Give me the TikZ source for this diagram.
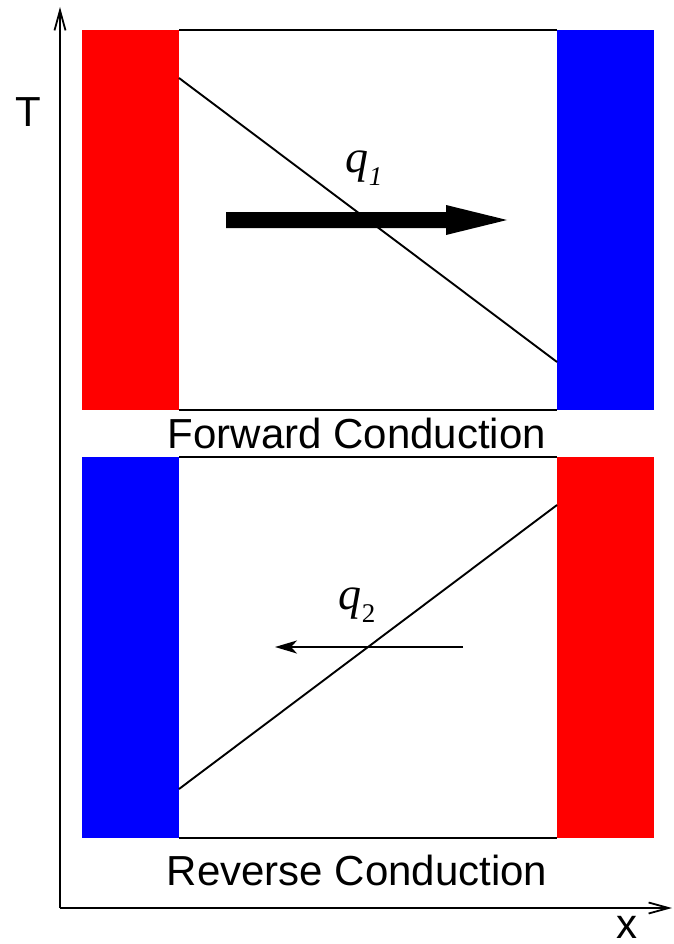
\documentclass[tikz,border=0pt]{standalone}
\usepackage{fontspec}
\setmainfont{Liberation Sans}
\newfontfamily\qfont{Liberation Serif}
\usetikzlibrary{arrows.meta}
\definecolor{hotred}{RGB}{255,0,0}
\definecolor{coldblue}{RGB}{0,0,255}
\tikzset{
  thinline/.style={line width=1.9pt, black},
  axisline/.style={line width=2pt, black, -{Straight Barb[length=20pt,width=11pt,line width=1.8pt]}},
  lbl/.style={font=\fontsize{42}{42}\selectfont, inner sep=0pt},
  qlbl/.style={font=\fontsize{46}{46}\selectfont\qfont\itshape, inner sep=0pt},
  hot/.style={fill=hotred, draw=none},
  cold/.style={fill=coldblue, draw=none},
}
\newcommand{\subq}[1]{\raisebox{-0.28em}{\fontsize{27}{27}\selectfont #1}}
\begin{document}
\begin{tikzpicture}[x=1pt,y=-1pt]
\useasboundingbox (0,0) rectangle (673,944);
% axes
\coordinate (origin) at (60,908);
\coordinate (ytip) at (60,7);
\coordinate (xtip) at (672,908);
\draw[axisline] (origin) -- (ytip);
\draw[axisline] (origin) -- (xtip);
\node[lbl] (tlabel) at (28,112) {T};
\node[lbl] (xlabel) at (627,927) {x};
% top panel
\fill[hot] (82,30) rectangle (179,410);
\fill[cold] (557,30) rectangle (654,410);
\coordinate (tl1) at (179,30); \coordinate (tr1) at (557,30);
\coordinate (bl1) at (179,410); \coordinate (br1) at (557,410);
\draw[thinline] (tl1) -- (tr1);
\draw[thinline] (bl1) -- (br1);
\coordinate (ds1) at (179,78); \coordinate (de1) at (557,362);
\draw[thinline] (ds1) -- (de1);
\fill[black] (226,212) -- (446,212) -- (446,205) -- (507,220) -- (446,235) -- (446,228) -- (226,228) -- cycle;
\node[qlbl] (q1) at (364,168) {q\subq{1}};
\node[lbl] (fwd) at (357,433) {Forward Conduction};
% bottom panel
\fill[cold] (82,457) rectangle (179,838);
\fill[hot] (557,457) rectangle (654,838);
\coordinate (tl2) at (179,457); \coordinate (tr2) at (557,457);
\coordinate (bl2) at (179,838); \coordinate (br2) at (557,838);
\draw[thinline] (tl2) -- (tr2);
\draw[thinline] (bl2) -- (br2);
\coordinate (ds2) at (179,789); \coordinate (de2) at (557,505);
\draw[thinline] (ds2) -- (de2);
\coordinate (as2) at (463,647); \coordinate (ae2) at (275,647);
\draw[thinline, -{Stealth[length=22pt,width=13pt,inset=6pt]}] (as2) -- (ae2);
\node[qlbl] (q2) at (357,605) {q\subq{\upshape 2}};
\node[lbl] (rev) at (357,870) {Reverse Conduction};
\end{tikzpicture}
\end{document}
